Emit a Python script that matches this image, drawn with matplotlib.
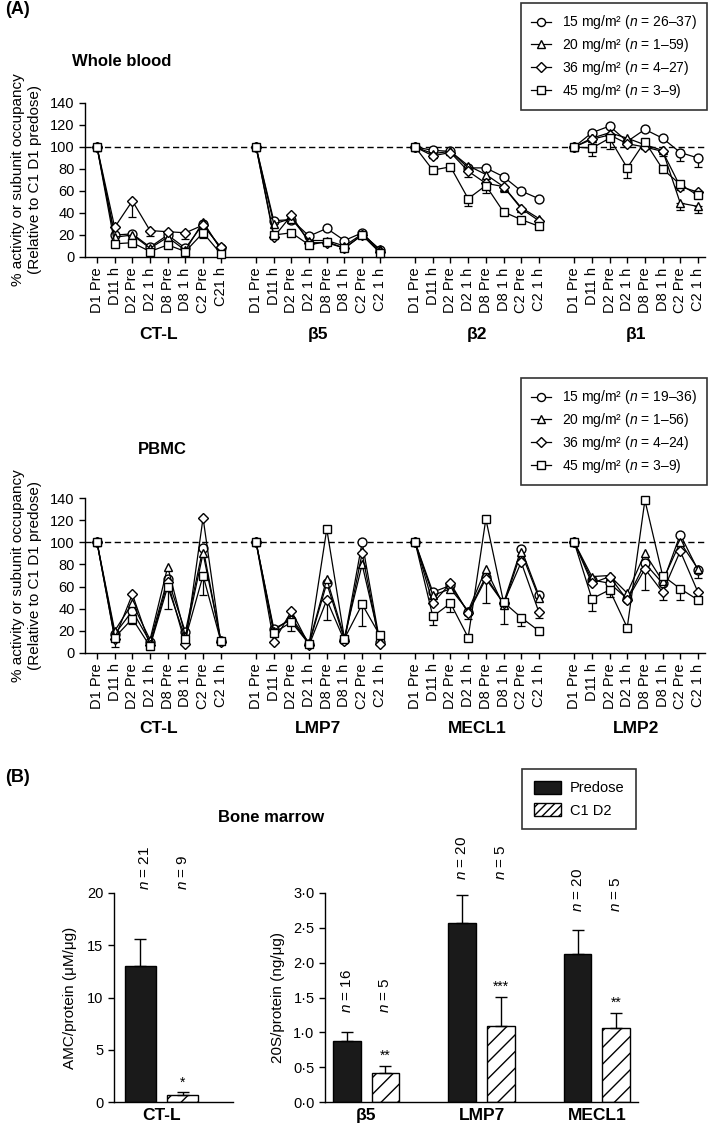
import matplotlib.pyplot as plt
import numpy as np
from matplotlib.lines import Line2D
from matplotlib.patches import Patch
from matplotlib.ticker import FuncFormatter
from matplotlib.transforms import blended_transform_factory

plt.rcParams['font.family'] = ['Liberation Sans', 'DejaVu Sans']
plt.rcParams['mathtext.fontset'] = 'custom'
plt.rcParams['mathtext.it'] = 'Liberation Sans:italic'
plt.rcParams['mathtext.rm'] = 'Liberation Sans'
plt.rcParams['hatch.linewidth'] = 1.0

# ---- data ----
time_points = ["D1 Pre", "D11 h", "D2 Pre", "D2 1 h", "D8 Pre", "D8 1 h", "C2 Pre", "C2 1 h"]
wb_groups = ["CT-L", "β5", "β2", "β1"]
pbmc_groups = ["CT-L", "LMP7", "MECL1", "LMP2"]
doses = ["15", "20", "36", "45"]
wb_n = ["26–37", "1–59", "4–27", "3–9"]
pbmc_n = ["19–36", "1–56", "4–24", "3–9"]

# whole blood, 4 groups x 8 time points per dose
wb_15 = [100, 20, 21, 9, 20, 8, 30, 8,
         100, 33, 34, 19, 26, 15, 22, 6,
         100, 97, 96, 81, 81, 73, 60, 53,
         100, 113, 119, 105, 116, 108, 95, 90]
wb_20 = [100, 18, 20, 8, 18, 6, 32, 7,
         100, 30, 35, 15, 15, 10, 21, 7,
         100, 94, 96, 83, 75, 64, 45, 35,
         100, 108, 113, 108, 102, 97, 49, 46]
wb_36 = [100, 27, 51, 24, 23, 22, 29, 9,
         100, 18, 38, 13, 13, 8, 20, 5,
         100, 92, 95, 78, 67, 64, 44, 33,
         100, 107, 111, 103, 100, 96, 64, 59]
wb_45 = [100, 12, 13, 5, 11, 5, 22, 3,
         100, 20, 22, 11, 14, 8, 20, 4,
         100, 79, 82, 53, 65, 41, 34, 28,
         100, 99, 108, 81, 105, 80, 66, 56]
# lower error bars (0 = none shown)
wb_15_err = [0] * 30 + [8, 8]
wb_20_err = [0] * 29 + [5, 6, 6]
wb_36_err = [0, 0, 15, 5, 0, 6, 0, 0,
             0, 0, 0, 0, 0, 0, 0, 0,
             0, 0, 0, 5, 0, 5, 0, 0,
             0, 0, 0, 0, 0, 0, 0, 0]
wb_45_err = [0, 0, 0, 0, 0, 0, 5, 0,
             0, 0, 0, 0, 0, 0, 0, 0,
             0, 0, 0, 7, 7, 0, 0, 0,
             0, 7, 10, 9, 0, 0, 5, 0]

# PBMC
pb_15 = [100, 17, 38, 10, 67, 19, 95, 11,
         100, 22, 30, 8, 63, 12, 100, 10,
         100, 55, 61, 37, 69, 45, 94, 52,
         100, 66, 63, 49, 81, 63, 107, 75]
pb_20 = [100, 20, 45, 12, 78, 15, 90, 12,
         100, 20, 32, 9, 67, 14, 80, 11,
         100, 52, 58, 38, 76, 43, 91, 50,
         100, 69, 70, 54, 90, 65, 100, 76]
pb_36 = [100, 13, 53, 7, 64, 8, 122, 10,
         100, 10, 38, 7, 48, 11, 90, 8,
         100, 45, 63, 36, 67, 45, 82, 37,
         100, 63, 69, 48, 76, 55, 92, 55]
pb_45 = [100, 14, 31, 6, 60, 13, 70, 11,
         100, 18, 28, 8, 112, 13, 44, 16,
         100, 33, 45, 14, 121, 46, 32, 20,
         100, 49, 57, 23, 138, 70, 58, 48]
pb_15_err = [0] * 32
pb_20_err = [0] * 31 + [8]
pb_36_err = [0, 0, 0, 0, 8, 0, 0, 0,
             0, 0, 0, 0, 18, 0, 0, 0,
             0, 0, 0, 5, 22, 0, 0, 5,
             0, 0, 0, 0, 19, 7, 0, 0]
pb_45_err = [0, 9, 5, 0, 20, 0, 18, 0,
             0, 0, 8, 0, 0, 0, 20, 9,
             0, 8, 8, 0, 0, 20, 8, 0,
             0, 11, 6, 0, 0, 0, 10, 0]

# bone marrow
ctl_pre, ctl_pre_err = 13.0, 2.6
ctl_c1d2, ctl_c1d2_err = 0.7, 0.23
ctl_n = ["21", "9"]
ctl_star = "*"
bm_groups = ["β5", "LMP7", "MECL1"]
bm_pre = [0.88, 2.57, 2.13]
bm_pre_err = [0.13, 0.40, 0.34]
bm_c1d2 = [0.42, 1.09, 1.06]
bm_c1d2_err = [0.10, 0.42, 0.22]
bm_n_pre = ["16", "20", "20"]
bm_n_c1d2 = ["5", "5", "5"]
bm_stars = ["**", "***", "**"]
bm_n_y = [1.28, 3.18, 2.73]

markers = ['o', '^', 'D', 's']
msizes = [6.4, 6.4, 5.4, 5.8]

W, H = 709, 1133
fig = plt.figure(figsize=(W / 100, H / 100), dpi=100)


def px_axes(l, t, r, b):
    return fig.add_axes([l / W, 1 - b / H, (r - l) / W, (b - t) / H])


def style_axes(ax):
    for s in ['top', 'right']:
        ax.spines[s].set_visible(False)
    for s in ['left', 'bottom']:
        ax.spines[s].set_linewidth(1.0)
    ax.tick_params(direction='out', length=4, width=1.0, labelsize=10.5, colors='k')


def line_panel(ax, series, errs, groups, last_label, group_y):
    style_axes(ax)
    ax.axhline(100, color='k', lw=1.0, ls=(0, (4.5, 2.5)), zorder=1)
    ticks, labels = [], []
    for g in range(4):
        xs = 9 * g + np.arange(8)
        ticks += list(xs)
        lab = list(time_points)
        if g == 0:
            lab[-1] = last_label
        labels += lab
        for k in range(4):
            ys = np.array(series[k][8 * g:8 * g + 8], dtype=float)
            lo = np.array(errs[k][8 * g:8 * g + 8], dtype=float)
            m = lo > 0
            if m.any():
                ax.errorbar(xs[m], ys[m], yerr=[lo[m], np.zeros(m.sum())], fmt='none',
                            ecolor='k', elinewidth=0.9, capsize=3.2, capthick=0.9, zorder=2)
            ax.plot(xs, ys, color='k', lw=0.9, marker=markers[k], ms=msizes[k],
                    mfc='white', mec='k', mew=1.0, clip_on=False, zorder=3 + k)
        ax.text(9 * g + 3.5, group_y, groups[g], transform=blended_transform_factory(ax.transData, ax.transAxes),
                ha='center', va='center', fontsize=12.5, fontweight='bold')
    ax.set_xticks(ticks)
    ax.set_xticklabels(labels, rotation=90, fontsize=10.5)
    ax.set_xlim(-0.68, 34.4)
    ax.set_ylim(0, 140)
    ax.set_yticks(range(0, 141, 20))
    ax.set_ylabel("% activity or subunit occupancy\n(Relative to C1 D1 predose)", fontsize=11, labelpad=6,
                  linespacing=1.25)


def dose_legend(ns, right, top):
    handles = [Line2D([], [], color='k', lw=0.9, marker=markers[k], ms=msizes[k] - 0.6, mfc='white', mec='k',
                      mew=1.0) for k in range(4)]
    labels = [f"{doses[k]} mg/m² ($n$ = {ns[k]})" for k in range(4)]
    leg = fig.legend(handles, labels, loc='upper right', bbox_to_anchor=(right / W, 1 - top / H),
                     frameon=True, fancybox=False, edgecolor='k', fontsize=10, handlelength=1.4,
                     handletextpad=0.8, labelspacing=0.35, borderpad=0.75, borderaxespad=0)
    leg.get_frame().set_linewidth(1.2)


# ---- panel A: whole blood ----
ax_wb = px_axes(85, 103, 705, 257)
line_panel(ax_wb, [wb_15, wb_20, wb_36, wb_45], [wb_15_err, wb_20_err, wb_36_err, wb_45_err],
           wb_groups, "C21 h", -0.505)
dose_legend(wb_n, 707, 3)

# ---- PBMC ----
ax_pb = px_axes(85, 498, 705, 653)
line_panel(ax_pb, [pb_15, pb_20, pb_36, pb_45], [pb_15_err, pb_20_err, pb_36_err, pb_45_err],
           pbmc_groups, "C2 1 h", -0.485)
dose_legend(pbmc_n, 707, 378)

fig.text(5 / W, 1 - 10 / H, "(A)", fontsize=13, fontweight='bold', va='center')
fig.text(122 / W, 1 - 61 / H, "Whole blood", fontsize=12, fontweight='bold', ha='center', va='center')
fig.text(162 / W, 1 - 449 / H, "PBMC", fontsize=12, fontweight='bold', ha='center', va='center')
fig.text(5 / W, 1 - 778 / H, "(B)", fontsize=13, fontweight='bold', va='center')
fig.text(271 / W, 1 - 818 / H, "Bone marrow", fontsize=12, fontweight='bold', ha='center', va='center')

# ---- panel B: bone marrow CT-L ----
bw = 0.72
ax_b1 = px_axes(114, 893, 233, 1102)
style_axes(ax_b1)
ax_b1.bar(-0.5, ctl_pre, bw, color='#1a1a1a', edgecolor='k', lw=1.0)
ax_b1.bar(0.5, ctl_c1d2, bw, color='white', edgecolor='k', lw=1.0, hatch='//')
ax_b1.errorbar([-0.5, 0.5], [ctl_pre, ctl_c1d2], yerr=[[0, 0], [ctl_pre_err, ctl_c1d2_err]], fmt='none',
               ecolor='k', elinewidth=1.0, capsize=4.5, capthick=1.0)
for x, n in zip([-0.4, 0.5], ctl_n):
    ax_b1.text(x, 20.3, f"$n$ = {n}", rotation=90, ha='center', va='bottom', fontsize=11, clip_on=False)
ax_b1.text(0.5, ctl_c1d2 + ctl_c1d2_err + 0.9, ctl_star, ha='center', va='center', fontsize=10)
ax_b1.set_xlim(-1.13, 1.70)
ax_b1.set_ylim(0, 20)
ax_b1.set_yticks(range(0, 21, 5))
ax_b1.set_xticks([0])
ax_b1.set_xticklabels(["CT-L"], fontsize=12.5, fontweight='bold')
ax_b1.tick_params(axis='x', length=0, pad=4)
ax_b1.set_ylabel("AMC/protein (μM/μg)", fontsize=11, labelpad=7)

# ---- panel B: bone marrow 20S subunits ----
ax_b2 = px_axes(325, 893, 638, 1102)
style_axes(ax_b2)
gx = np.arange(len(bm_groups)) * 3.0
ax_b2.bar(gx - 0.5, bm_pre, bw, color='#1a1a1a', edgecolor='k', lw=1.0)
ax_b2.bar(gx + 0.5, bm_c1d2, bw, color='white', edgecolor='k', lw=1.0, hatch='//')
ax_b2.errorbar(gx - 0.5, bm_pre, yerr=[np.zeros(3), bm_pre_err], fmt='none', ecolor='k',
               elinewidth=1.0, capsize=4.5, capthick=1.0)
ax_b2.errorbar(gx + 0.5, bm_c1d2, yerr=[np.zeros(3), bm_c1d2_err], fmt='none', ecolor='k',
               elinewidth=1.0, capsize=4.5, capthick=1.0)
for i in range(3):
    ax_b2.text(gx[i] - 0.5, bm_n_y[i], f"$n$ = {bm_n_pre[i]}", rotation=90, ha='center', va='bottom',
               fontsize=11, clip_on=False)
    ax_b2.text(gx[i] + 0.5, bm_n_y[i], f"$n$ = {bm_n_c1d2[i]}", rotation=90, ha='center', va='bottom',
               fontsize=11, clip_on=False)
    ax_b2.text(gx[i] + 0.5, bm_c1d2[i] + bm_c1d2_err[i] + 0.14, bm_stars[i], ha='center', va='center',
               fontsize=10)
ax_b2.set_xlim(-1.07, 7.07)
ax_b2.set_ylim(0, 3)
ax_b2.set_yticks(np.arange(0, 3.01, 0.5))
ax_b2.yaxis.set_major_formatter(FuncFormatter(lambda v, p: f"{v:.1f}".replace('.', '·')))
ax_b2.set_xticks(gx)
ax_b2.set_xticklabels(bm_groups, fontsize=12.5, fontweight='bold')
ax_b2.tick_params(axis='x', length=0, pad=4)
ax_b2.set_ylabel("20S/protein (ng/μg)", fontsize=11, labelpad=6)

bar_handles = [Patch(facecolor='#1a1a1a', edgecolor='k'), Patch(facecolor='white', edgecolor='k', hatch='////')]
leg = fig.legend(bar_handles, ["Predose", "C1 D2"], loc='upper left', bbox_to_anchor=(522 / W, 1 - 769 / H),
                 frameon=True, fancybox=False, edgecolor='k', fontsize=10.5, handlelength=1.9,
                 handleheight=1.0, handletextpad=0.6, labelspacing=0.55, borderpad=0.8, borderaxespad=0)
leg.get_frame().set_linewidth(1.2)

fig.savefig("out.png", dpi=100)
